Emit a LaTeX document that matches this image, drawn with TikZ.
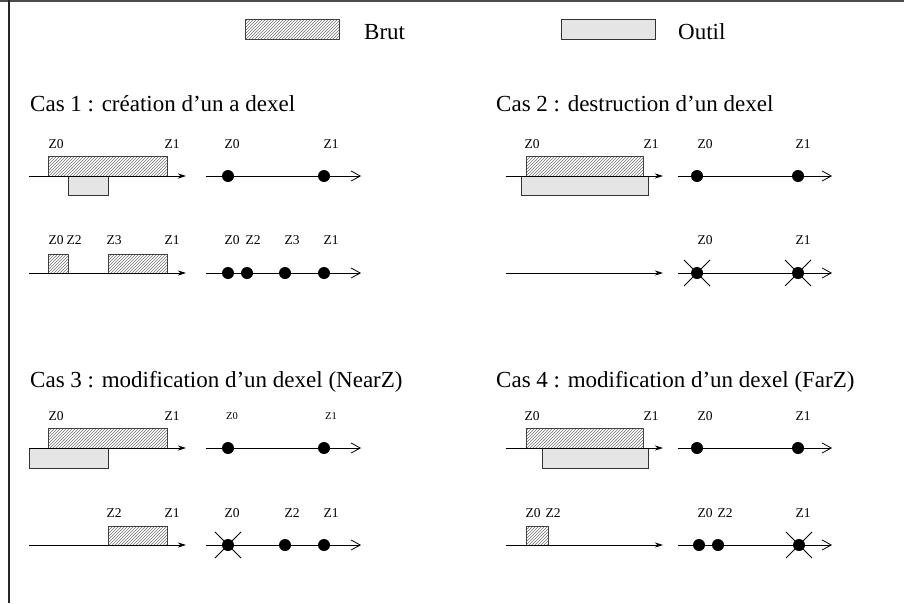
\documentclass[tikz,border=0pt]{standalone}
\usepackage{fontspec}
\setmainfont{Liberation Serif}
\usetikzlibrary{arrows.meta,patterns}
\definecolor{toolgray}{RGB}{229,229,229}
\begin{document}
\begin{tikzpicture}[x=1pt,y=-1pt,
  brut/.style={draw=black!75, line width=0.8pt, pattern=north east lines, pattern color=black!55},
  outil/.style={draw=black!80, line width=0.8pt, fill=toolgray},
  axe/.style={draw=black, line width=0.8pt, -{Stealth[length=8pt,width=5pt,inset=2.5pt]}},
  axepts/.style={draw=black, line width=0.8pt, -{Straight Barb[length=9pt,width=10pt,line width=0.8pt]}},
  pt/.style={circle, fill=black, inner sep=0pt, minimum size=12pt},
  croix/.style={draw=black, line width=0.8pt},
  titre/.style={font=\fontsize{23}{27}\selectfont, anchor=base west, inner sep=0pt},
  lab/.style={font=\fontsize{13.5}{16}\selectfont, anchor=base, inner sep=0pt},
  labsmall/.style={font=\fontsize{10.5}{12}\selectfont, anchor=base, inner sep=0pt},
  legende/.style={font=\fontsize{23}{27}\selectfont, anchor=base west, inner sep=0pt}]
\path[use as bounding box] (0,0) rectangle (904,603);

% frame
\draw[black!70, line width=1.3pt] (0,1) -- (904,1);
\draw[black!85, line width=1.5pt] (9,0) -- (9,603);

% legend
\draw[brut] (245,19) rectangle (339,39);
\node[legende] (lbrut) at (364,39) {Brut};
\draw[outil] (561,19) rectangle (655,39);
\node[legende] (loutil) at (678,39) {Outil};

% titles
\node[titre] (t1) at (30,111) {Cas 1 : création d'un a dexel};
\node[titre] (t2) at (496,111) {Cas 2 : destruction d'un dexel};
\node[titre] (t3) at (30,387) {Cas 3 : modification d'un dexel (NearZ)};
\node[titre] (t4) at (496,387) {Cas 4 : modification d'un dexel (FarZ)};

% ---------------- Cas 1 ----------------
\draw[brut] (48,156) rectangle (167,176);
\draw[outil] (68,176) rectangle (108,195);
\coordinate (a1s) at (29,176); \coordinate (a1e) at (186,176);
\draw[axe] (a1s) -- (a1e);
\node[lab] (c1z0) at (56,148) {Z0};
\node[lab] (c1z1) at (172,148) {Z1};

\coordinate (b1s) at (206,176); \coordinate (b1e) at (361,176);
\draw[axepts] (b1s) -- (b1e);
\node[pt] (c1p0) at (228,176) {};
\node[pt] (c1p1) at (324,176) {};
\node[lab] (c1q0) at (232,148) {Z0};
\node[lab] (c1q1) at (331,148) {Z1};

\draw[brut] (48,254) rectangle (68,273);
\draw[brut] (108,254) rectangle (167,273);
\coordinate (a2s) at (29,273); \coordinate (a2e) at (186,273);
\draw[axe] (a2s) -- (a2e);
\node[lab] (c1r0) at (56,244) {Z0};
\node[lab] (c1r2) at (74,244) {Z2};
\node[lab] (c1r3) at (114,244) {Z3};
\node[lab] (c1r1) at (172,244) {Z1};

\coordinate (b2s) at (206,273); \coordinate (b2e) at (361,273);
\draw[axepts] (b2s) -- (b2e);
\node[pt] (c1s0) at (228,273) {};
\node[pt] (c1s2) at (247,273) {};
\node[pt] (c1s3) at (285,273) {};
\node[pt] (c1s1) at (324,273) {};
\node[lab] (c1u0) at (232,244) {Z0};
\node[lab] (c1u2) at (253,244) {Z2};
\node[lab] (c1u3) at (292,244) {Z3};
\node[lab] (c1u1) at (331,244) {Z1};

% ---------------- Cas 2 ----------------
\draw[brut] (526,156) rectangle (643,176);
\draw[outil] (521,176) rectangle (648,195);
\coordinate (a3s) at (506,176); \coordinate (a3e) at (663,176);
\draw[axe] (a3s) -- (a3e);
\node[lab] (c2z0) at (532,148) {Z0};
\node[lab] (c2z1) at (651,148) {Z1};

\coordinate (b3s) at (678,176); \coordinate (b3e) at (832,176);
\draw[axepts] (b3s) -- (b3e);
\node[pt] (c2p0) at (697,176) {};
\node[pt] (c2p1) at (798,176) {};
\node[lab] (c2q0) at (705,148) {Z0};
\node[lab] (c2q1) at (803,148) {Z1};

\coordinate (a4s) at (506,273); \coordinate (a4e) at (663,273);
\draw[axe] (a4s) -- (a4e);

\coordinate (b4s) at (678,273); \coordinate (b4e) at (832,273);
\draw[axepts] (b4s) -- (b4e);
\node[pt] (c2s0) at (697,273) {};
\node[pt] (c2s1) at (798,273) {};
\draw[croix] (c2s0.center) ++(-13,-13) -- ++(26,26) ++(0,-26) -- ++(-26,26);
\draw[croix] (c2s1.center) ++(-13,-13) -- ++(26,26) ++(0,-26) -- ++(-26,26);
\node[lab] (c2u0) at (705,244) {Z0};
\node[lab] (c2u1) at (803,244) {Z1};

% ---------------- Cas 3 ----------------
\draw[brut] (48,428) rectangle (167,448);
\draw[outil] (29,448) rectangle (108,468);
\coordinate (a5s) at (29,448); \coordinate (a5e) at (186,448);
\draw[axe] (a5s) -- (a5e);
\node[lab] (c3z0) at (56,420) {Z0};
\node[lab] (c3z1) at (172,420) {Z1};

\coordinate (b5s) at (206,448); \coordinate (b5e) at (361,448);
\draw[axepts] (b5s) -- (b5e);
\node[pt] (c3p0) at (228,448) {};
\node[pt] (c3p1) at (324,448) {};
\node[labsmall] (c3q0) at (232,419) {Z0};
\node[labsmall] (c3q1) at (331,419) {Z1};

\draw[brut] (108,526) rectangle (167,545);
\coordinate (a6s) at (29,545); \coordinate (a6e) at (186,545);
\draw[axe] (a6s) -- (a6e);
\node[lab] (c3r2) at (114,517) {Z2};
\node[lab] (c3r1) at (172,517) {Z1};

\coordinate (b6s) at (206,545); \coordinate (b6e) at (361,545);
\draw[axepts] (b6s) -- (b6e);
\node[pt] (c3s0) at (228,545) {};
\node[pt] (c3s2) at (285,545) {};
\node[pt] (c3s1) at (324,545) {};
\draw[croix] (c3s0.center) ++(-13,-13) -- ++(26,26) ++(0,-26) -- ++(-26,26);
\node[lab] (c3u0) at (232,517) {Z0};
\node[lab] (c3u2) at (292,517) {Z2};
\node[lab] (c3u1) at (331,517) {Z1};

% ---------------- Cas 4 ----------------
\draw[brut] (526,428) rectangle (643,448);
\draw[outil] (542,448) rectangle (648,468);
\coordinate (a7s) at (506,448); \coordinate (a7e) at (663,448);
\draw[axe] (a7s) -- (a7e);
\node[lab] (c4z0) at (532,420) {Z0};
\node[lab] (c4z1) at (651,420) {Z1};

\coordinate (b7s) at (678,448); \coordinate (b7e) at (832,448);
\draw[axepts] (b7s) -- (b7e);
\node[pt] (c4p0) at (697,448) {};
\node[pt] (c4p1) at (798,448) {};
\node[lab] (c4q0) at (705,420) {Z0};
\node[lab] (c4q1) at (803,420) {Z1};

\draw[brut] (526,526) rectangle (548,545);
\coordinate (a8s) at (506,545); \coordinate (a8e) at (663,545);
\draw[axe] (a8s) -- (a8e);
\node[lab] (c4r0) at (533,517) {Z0};
\node[lab] (c4r2) at (553,517) {Z2};

\coordinate (b8s) at (678,545); \coordinate (b8e) at (832,545);
\draw[axepts] (b8s) -- (b8e);
\node[pt] (c4s0) at (699,545) {};
\node[pt] (c4s2) at (718,545) {};
\node[pt] (c4s1) at (799,545) {};
\draw[croix] (c4s1.center) ++(-13,-13) -- ++(26,26) ++(0,-26) -- ++(-26,26);
\node[lab] (c4u0) at (705,517) {Z0};
\node[lab] (c4u2) at (725,517) {Z2};
\node[lab] (c4u1) at (803,517) {Z1};
\end{tikzpicture}
\end{document}
